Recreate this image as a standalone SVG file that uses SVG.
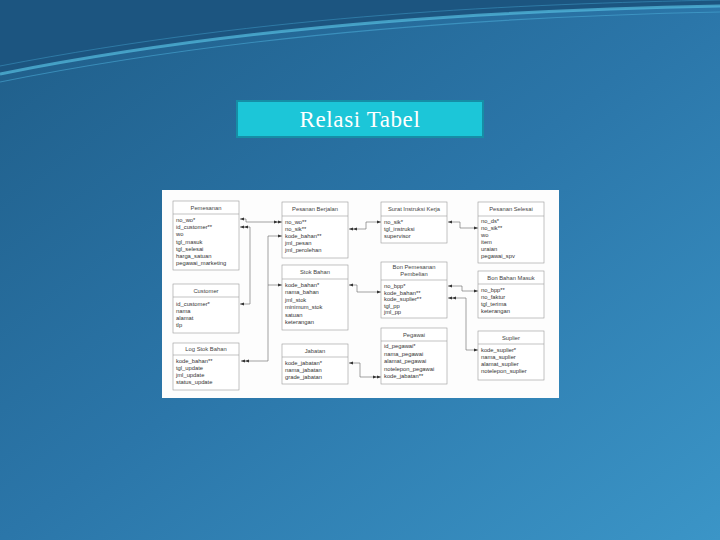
<svg xmlns="http://www.w3.org/2000/svg" width="720" height="540" viewBox="0 0 720 540">
<defs>
<linearGradient id="bg" x1="0" y1="0" x2="1" y2="1">
<stop offset="0" stop-color="#1f5d88"/>
<stop offset="0.5" stop-color="#2b76a9"/>
<stop offset="1" stop-color="#3b95c7"/>
</linearGradient>
<marker id="a1" viewBox="0 0 4 4" refX="4" refY="2" markerWidth="4" markerHeight="4" markerUnits="userSpaceOnUse" orient="auto-start-reverse"><path d="M0,0.6 L4,2 L0,3.4z" fill="#333"/></marker>
<marker id="a2" viewBox="0 0 8 4" refX="8" refY="2" markerWidth="8" markerHeight="4" markerUnits="userSpaceOnUse" orient="auto-start-reverse"><path d="M0,0.6 L4,2 L0,3.4z M4,0.6 L8,2 L4,3.4z" fill="#333"/></marker>
</defs>
<style>
.box{fill:#fff;stroke:#9a9a9a;stroke-width:0.6}
.sep{stroke:#9a9a9a;stroke-width:0.6}
.h{font-family:"Liberation Sans",Arial,sans-serif;font-size:5.8px;fill:#444;text-anchor:middle}
.f{font-family:"Liberation Sans",Arial,sans-serif;font-size:5.8px;fill:#333}
.c{fill:none;stroke:#666;stroke-width:0.6}
</style>
<rect width="720" height="540" fill="url(#bg)"/>
<path d="M0,0 H720 V6 C520,10 260,22 0,74 Z" fill="#1c5580"/>
<path d="M0,74 C260,22 520,10 720,6" fill="none" stroke="#56bde0" stroke-width="3" opacity="0.7"/>
<path d="M0,82 C250,32 520,16 720,12" fill="none" stroke="#4aa9d4" stroke-width="1.2" opacity="0.6"/>
<path d="M0,66 C270,14 520,4 720,0" fill="none" stroke="#3f9dc9" stroke-width="1" opacity="0.5"/>
<g id="title">
<rect x="237" y="101" width="246" height="36" fill="#1cc6d8" stroke="#168ea6" stroke-width="2"/>
<text x="360" y="127" font-family="Liberation Serif,'Times New Roman',serif" font-size="23" letter-spacing="0.6" fill="#ffffff" text-anchor="middle">Relasi Tabel</text>
</g>
<rect x="162" y="190" width="397" height="208" fill="#fdfdfd"/>
<g id="connectors">
<path class="c" d="M240,219 H246 V222 H282" marker-start="url(#a1)" marker-end="url(#a2)"/>
<path class="c" d="M240,227 H250 V304 H240" marker-start="url(#a2)" marker-end="url(#a1)"/>
<path class="c" d="M282,236 H268 V361 H241" marker-start="url(#a1)" marker-end="url(#a2)"/>
<path class="c" d="M268,285 H282" marker-end="url(#a1)"/>
<path class="c" d="M349,229 H366 V222 H381" marker-start="url(#a2)" marker-end="url(#a1)"/>
<path class="c" d="M448,222 H460 V228 H478" marker-start="url(#a1)" marker-end="url(#a1)"/>
<path class="c" d="M349,285 H357 V292 H381" marker-start="url(#a1)" marker-end="url(#a1)"/>
<path class="c" d="M448,286 H462 V291 H478" marker-start="url(#a1)" marker-end="url(#a1)"/>
<path class="c" d="M448,298 H466 V350 H478" marker-start="url(#a2)" marker-end="url(#a1)"/>
<path class="c" d="M349,363 H360 V377 H381" marker-start="url(#a1)" marker-end="url(#a2)"/>
</g>
<g id="pemesanan">
<rect class="box" x="173" y="201" width="66" height="69"/>
<line class="sep" x1="173" y1="214" x2="239" y2="214"/>
<text class="h" x="206" y="210">Pemesanan</text>
<text class="f" x="176" y="222">no_wo*</text>
<text class="f" x="176" y="229.2">id_customer**</text>
<text class="f" x="176" y="236.4">wo</text>
<text class="f" x="176" y="243.6">tgl_masuk</text>
<text class="f" x="176" y="250.8">tgl_selesai</text>
<text class="f" x="176" y="258">harga_satuan</text>
<text class="f" x="176" y="265.2">pegawai_marketing</text>
</g>
<g id="customer">
<rect class="box" x="173" y="284" width="66" height="49"/>
<line class="sep" x1="173" y1="297" x2="239" y2="297"/>
<text class="h" x="206" y="293">Customer</text>
<text class="f" x="176" y="306">id_customer*</text>
<text class="f" x="176" y="313">nama</text>
<text class="f" x="176" y="320">alamat</text>
<text class="f" x="176" y="327">tlp</text>
</g>
<g id="logstok">
<rect class="box" x="173" y="343" width="66" height="47"/>
<line class="sep" x1="173" y1="355" x2="239" y2="355"/>
<text class="h" x="206" y="351">Log Stok Bahan</text>
<text class="f" x="176" y="363">kode_bahan**</text>
<text class="f" x="176" y="370">tgl_update</text>
<text class="f" x="176" y="377">jml_update</text>
<text class="f" x="176" y="384">status_update</text>
</g>
<g id="pesananberjalan">
<rect class="box" x="282" y="202" width="66" height="56"/>
<line class="sep" x1="282" y1="216" x2="348" y2="216"/>
<text class="h" x="315" y="211">Pesanan Berjalan</text>
<text class="f" x="285" y="224">no_wo**</text>
<text class="f" x="285" y="231">no_sik**</text>
<text class="f" x="285" y="238">kode_bahan**</text>
<text class="f" x="285" y="245">jml_pesan</text>
<text class="f" x="285" y="252">jml_perolehan</text>
</g>
<g id="stokbahan">
<rect class="box" x="282" y="265" width="66" height="65"/>
<line class="sep" x1="282" y1="279" x2="348" y2="279"/>
<text class="h" x="315" y="274">Stok Bahan</text>
<text class="f" x="285" y="287">kode_bahan*</text>
<text class="f" x="285" y="294.4">nama_bahan</text>
<text class="f" x="285" y="301.8">jml_stok</text>
<text class="f" x="285" y="309.2">minimum_stok</text>
<text class="f" x="285" y="316.6">satuan</text>
<text class="f" x="285" y="324">keterangan</text>
</g>
<g id="jabatan">
<rect class="box" x="282" y="344" width="66" height="40"/>
<line class="sep" x1="282" y1="357" x2="348" y2="357"/>
<text class="h" x="315" y="353">Jabatan</text>
<text class="f" x="285" y="365">kode_jabatan*</text>
<text class="f" x="285" y="372">nama_jabatan</text>
<text class="f" x="285" y="379">grade_jabatan</text>
</g>
<g id="suratinstruksi">
<rect class="box" x="381" y="202" width="66" height="41"/>
<line class="sep" x1="381" y1="216" x2="447" y2="216"/>
<text class="h" x="414" y="211">Surat Instruksi Kerja</text>
<text class="f" x="384" y="224">no_sik*</text>
<text class="f" x="384" y="231">tgl_instruksi</text>
<text class="f" x="384" y="238">supervisor</text>
</g>
<g id="bonpemesanan">
<rect class="box" x="381" y="262" width="66" height="56"/>
<line class="sep" x1="381" y1="280" x2="447" y2="280"/>
<text class="h" x="414" y="269">Bon Pemesanan</text>
<text class="h" x="414" y="276">Pembelian</text>
<text class="f" x="384" y="288">no_bpp*</text>
<text class="f" x="384" y="294.5">kode_bahan**</text>
<text class="f" x="384" y="301">kode_suplier**</text>
<text class="f" x="384" y="307.5">tgl_pp</text>
<text class="f" x="384" y="314">jml_pp</text>
</g>
<g id="pegawai">
<rect class="box" x="381" y="328" width="66" height="56"/>
<line class="sep" x1="381" y1="341" x2="447" y2="341"/>
<text class="h" x="414" y="337">Pegawai</text>
<text class="f" x="384" y="348">id_pegawai*</text>
<text class="f" x="384" y="355.5">nama_pegawai</text>
<text class="f" x="384" y="363">alamat_pegawai</text>
<text class="f" x="384" y="370.5">notelepon_pegawai</text>
<text class="f" x="384" y="378">kode_jabatan**</text>
</g>
<g id="pesananselesai">
<rect class="box" x="478" y="202" width="66" height="61"/>
<line class="sep" x1="478" y1="216" x2="544" y2="216"/>
<text class="h" x="511" y="211">Pesanan Selesai</text>
<text class="f" x="481" y="223">no_ds*</text>
<text class="f" x="481" y="230">no_sik**</text>
<text class="f" x="481" y="237">wo</text>
<text class="f" x="481" y="244">item</text>
<text class="f" x="481" y="251">uraian</text>
<text class="f" x="481" y="258">pegawai_spv</text>
</g>
<g id="bonbahanmasuk">
<rect class="box" x="478" y="271" width="66" height="47"/>
<line class="sep" x1="478" y1="284" x2="544" y2="284"/>
<text class="h" x="511" y="280">Bon Bahan Masuk</text>
<text class="f" x="481" y="292">no_bpp**</text>
<text class="f" x="481" y="299">no_faktur</text>
<text class="f" x="481" y="306">tgl_terima</text>
<text class="f" x="481" y="313">keterangan</text>
</g>
<g id="suplier">
<rect class="box" x="478" y="331" width="66" height="49"/>
<line class="sep" x1="478" y1="344" x2="544" y2="344"/>
<text class="h" x="511" y="340">Suplier</text>
<text class="f" x="481" y="352">kode_suplier*</text>
<text class="f" x="481" y="359">nama_suplier</text>
<text class="f" x="481" y="366">alamat_suplier</text>
<text class="f" x="481" y="373">notelepon_suplier</text>
</g>
</svg>
